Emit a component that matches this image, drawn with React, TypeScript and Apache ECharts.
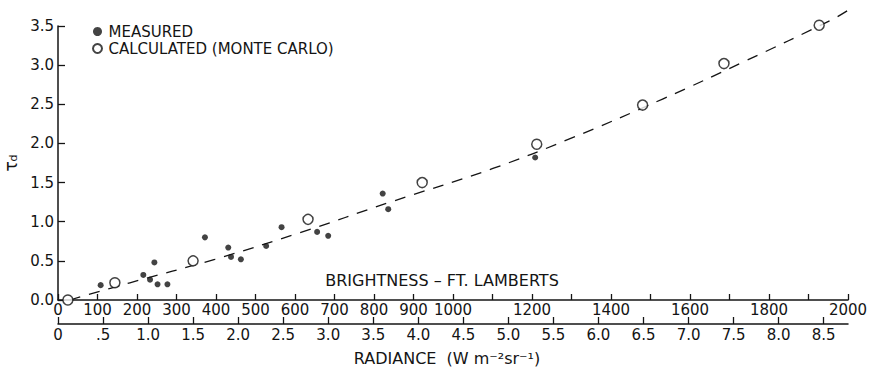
import React, { useEffect, useRef } from 'react';
import * as echarts from 'echarts';

// Measured points: brightness (ft-L) and tau_d
const BRIGHTNESS_MEASURED = [108, 216, 233, 244, 252, 277, 372, 431, 438, 463, 527, 566, 656, 684, 822, 836, 1208];
const TAU_MEASURED = [0.19, 0.32, 0.26, 0.48, 0.2, 0.2, 0.8, 0.67, 0.55, 0.52, 0.69, 0.93, 0.87, 0.82, 1.36, 1.16, 1.82];

// Calculated (Monte Carlo) points
const BRIGHTNESS_CALC = [25, 144, 342, 633, 922, 1212, 1480, 1686, 1927];
const TAU_CALC = [0.0, 0.22, 0.5, 1.03, 1.5, 1.99, 2.49, 3.02, 3.51];

// Dashed fitted curve
const BRIGHTNESS_CURVE = [30, 182, 397, 613, 841, 1101, 1301, 1532, 1739, 1959, 2000];
const TAU_CURVE = [0.0, 0.22, 0.52, 0.86, 1.25, 1.68, 2.07, 2.57, 3.05, 3.58, 3.7];

// Axis ticks / labels
const BRIGHTNESS_LABELS = [0, 100, 200, 300, 400, 500, 600, 700, 800, 900, 1000, 1200, 1400, 1600, 1800, 2000];
const RADIANCE_TICKS = [0, 0.5, 1, 1.5, 2, 2.5, 3, 3.5, 4, 4.5, 5, 5.5, 6, 6.5, 7, 7.5, 8, 8.5];
const RADIANCE_MAX = 8.77;
const TAU_TICKS_MAX = 3.5;

const FONT = '"DejaVu Sans", "Liberation Sans", Arial, sans-serif';
const INK = '#141414';

const zip = (a: number[], b: number[]) => a.map((v, i) => [v, b[i]]);

export default function App() {
  const ref = useRef<HTMLDivElement>(null);

  useEffect(() => {
    const chart = echarts.init(ref.current!, null, { renderer: 'svg' });
    const axisLine = { show: true, onZero: false, lineStyle: { color: INK, width: 1.5 } };
    const labelBase = { color: INK, fontSize: 15, fontFamily: FONT };
    chart.setOption({
      animation: false,
      backgroundColor: '#fff',
      grid: { left: 58, right: 25, top: 26, bottom: 67, containLabel: false, outerBoundsMode: 'none' },
      legend: {
        orient: 'vertical',
        left: 92,
        top: 24,
        padding: 0,
        itemWidth: 10,
        itemHeight: 9,
        itemGap: 2,
        selectedMode: false,
        textStyle: { ...labelBase, lineHeight: 14, padding: [0, 0, 0, 1] },
        data: ['MEASURED', 'CALCULATED (MONTE CARLO)'],
      },
      xAxis: [
        {
          type: 'value',
          min: 0,
          max: 2000,
          interval: 100,
          position: 'bottom',
          axisLine,
          axisTick: { show: true, inside: true, length: 6, lineStyle: { color: INK, width: 1.3 } },
          axisLabel: {
            ...labelBase,
            margin: 2,
            interval: 0,
            hideOverlap: false,
            formatter: (v: number) => (BRIGHTNESS_LABELS.includes(v) ? String(v) : ''),
          },
          splitLine: { show: false },
          name: 'BRIGHTNESS – FT. LAMBERTS',
          nameLocation: 'middle',
          nameGap: -28,
          nameTextStyle: { ...labelBase, fontSize: 16, padding: [0, 22, 0, 0] },
        },
        {
          type: 'value',
          min: 0,
          max: RADIANCE_MAX,
          position: 'bottom',
          offset: 24,
          axisLine,
          axisTick: { show: true, inside: true, length: 7, customValues: RADIANCE_TICKS, lineStyle: { color: INK, width: 1.3 } },
          axisLabel: {
            ...labelBase,
            margin: 3,
            customValues: RADIANCE_TICKS,
            formatter: (v: number) => (v === 0 ? '0' : v === 0.5 ? '.5' : v.toFixed(1)),
          },
          splitLine: { show: false },
          name: 'RADIANCE  (W m⁻²sr⁻¹)',
          nameLocation: 'middle',
          nameGap: 26,
          nameTextStyle: { ...labelBase, fontSize: 16, padding: [0, 12, 0, 0] },
        },
      ],
      yAxis: {
        type: 'value',
        min: 0,
        max: TAU_TICKS_MAX,
        interval: 0.5,
        axisLine,
        axisTick: { show: true, inside: true, length: 7, lineStyle: { color: INK, width: 1.3 } },
        axisLabel: { ...labelBase, margin: 4, formatter: (v: number) => v.toFixed(1) },
        splitLine: { show: false },
        name: '{t|τ}{s|d}',
        nameLocation: 'middle',
        nameRotate: 90,
        nameGap: 29,
        nameTextStyle: {
          rich: {
            t: { fontSize: 17, color: INK, fontFamily: FONT },
            s: { fontSize: 11, color: INK, fontFamily: FONT, padding: [6, 0, 0, 0] },
          },
        },
      },
      series: [
        {
          type: 'line',
          name: 'curve',
          xAxisIndex: 0,
          data: zip(BRIGHTNESS_CURVE, TAU_CURVE),
          smooth: 0.4,
          symbol: 'none',
          clip: false,
          silent: true,
          z: 1,
          lineStyle: { color: INK, width: 1.3, type: [11, 9] },
        },
        {
          type: 'scatter',
          name: 'CALCULATED (MONTE CARLO)',
          xAxisIndex: 0,
          data: zip(BRIGHTNESS_CALC, TAU_CALC),
          symbol: 'circle',
          symbolSize: 10,
          clip: false,
          z: 2,
          itemStyle: { color: '#fff', borderColor: INK, borderWidth: 1.5 },
        },
        {
          type: 'scatter',
          name: 'MEASURED',
          xAxisIndex: 0,
          data: zip(BRIGHTNESS_MEASURED, TAU_MEASURED),
          symbol: 'circle',
          symbolSize: 6,
          z: 3,
          itemStyle: { color: INK },
        },
      ],
    });
    return () => chart.dispose();
  }, []);

  return (
    <div
      ref={ref}
      style={{ position: 'absolute', left: 0, top: 0, width: 873, height: 367, background: '#fff' }}
    />
  );
}
